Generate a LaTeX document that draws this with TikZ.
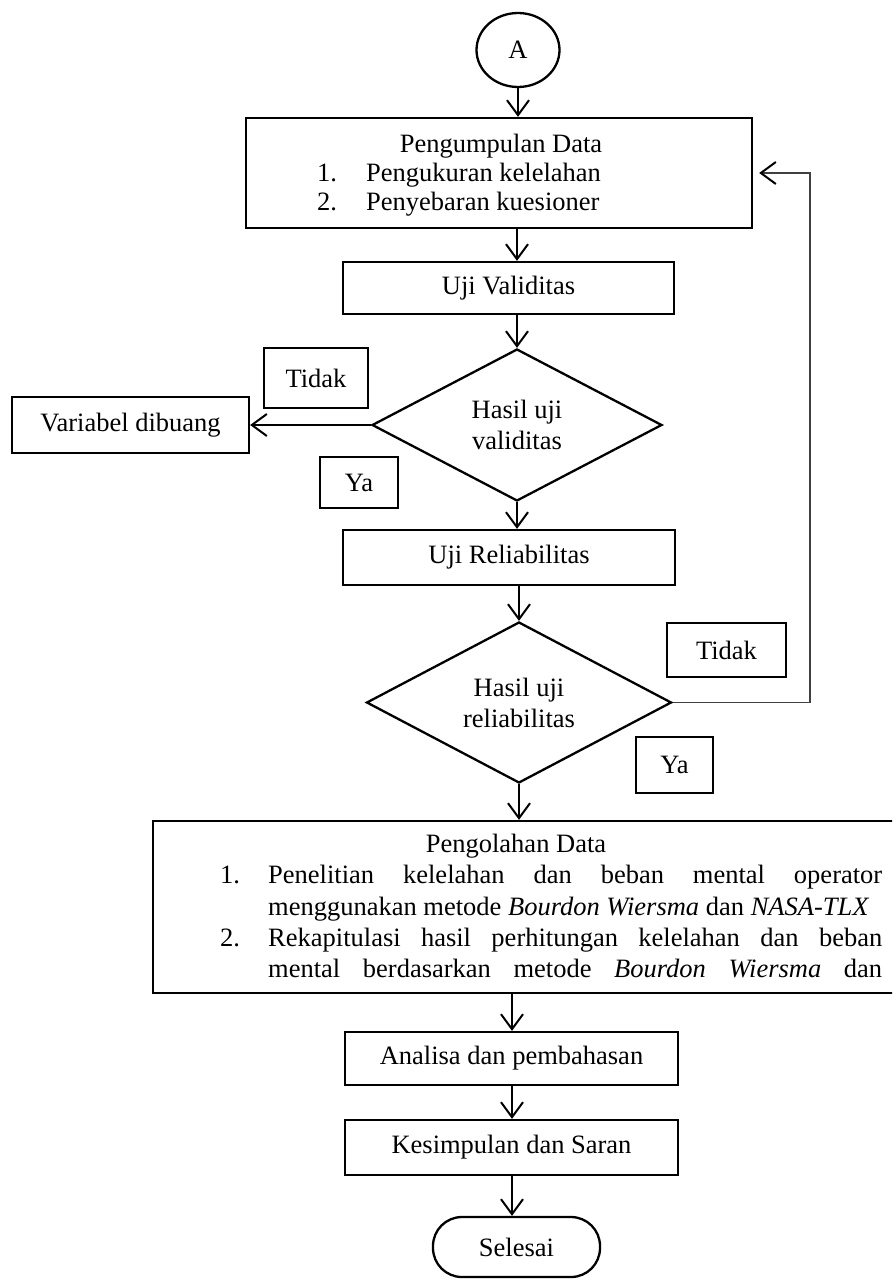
\documentclass[tikz,border=0pt]{standalone}
\usepackage{fontspec}
\setmainfont{Liberation Serif}
\usetikzlibrary{shapes.geometric,arrows.meta,calc}
\begin{document}
\begin{tikzpicture}[x=1pt,y=-1pt,
  every node/.append style={font=\fontsize{26.5}{31}\selectfont},
  box/.style={draw, line width=2.3pt, inner sep=0pt, align=center},
  lblbox/.style={draw, line width=2.1pt, inner sep=0pt},
  dec/.style={draw, diamond, aspect=2, line width=2.3pt, inner sep=0pt, align=center},
  txt/.style={inner sep=0pt},
  arr/.style={line width=2pt, -{Straight Barb[length=15pt,width=22pt]}},
  fb/.style={line width=1.3pt, draw=black!75, -{Straight Barb[length=15pt,width=22pt,line width=2pt,color=black]}}
]
\useasboundingbox (0,0) rectangle (892,1279);
\clip (0,0) rectangle (892,1279);

% nodes
\node[ellipse, draw, line width=2.3pt, minimum width=83pt, minimum height=74pt, inner sep=0pt] (A) at (518,50) {A};
\node[box, minimum width=506pt, minimum height=110pt] (b1) at (499,173) {};
\node[txt, anchor=base] (b1t) at (501,152) {Pengumpulan Data};
\node[txt, anchor=base west] (b1n1) at (317,181) {1.};
\node[txt, anchor=base west] (b1i1) at (366,181) {Pengukuran kelelahan};
\node[txt, anchor=base west] (b1n2) at (317,210) {2.};
\node[txt, anchor=base west] (b1i2) at (366,210) {Penyebaran kuesioner};

\node[box, minimum width=331pt, minimum height=52pt] (uv) at (508.5,288) {Uji Validitas};
\node[dec, minimum width=290pt, minimum height=152pt] (d1) at (517,425) {Hasil uji\\validitas};
\node[lblbox, minimum width=104pt, minimum height=60pt] (t1) at (316,378) {Tidak};
\node[box, minimum width=237pt, minimum height=56pt] (var) at (130.5,425) {Variabel dibuang};
\node[lblbox, minimum width=78pt, minimum height=51pt] (y1) at (359,482.5) {Ya};

\node[box, minimum width=332pt, minimum height=55pt] (ur) at (509,557.5) {Uji Reliabilitas};
\node[dec, minimum width=305pt, minimum height=161pt] (d2) at (519,702.5) {Hasil uji\\reliabilitas};
\node[lblbox, minimum width=119pt, minimum height=54pt] (t2) at (726.5,650) {Tidak};
\node[lblbox, minimum width=77pt, minimum height=56pt] (y2) at (674.5,765) {Ya};

\node[box, minimum width=752pt, minimum height=172pt] (big) at (529,907) {};
\node[txt, anchor=base] (bigt) at (516,852) {Pengolahan Data};
\node[txt, anchor=base west] (bn1) at (220,883) {1.};
\node[txt, anchor=base west] (bl1) at (268,883) {\makebox[614pt][s]{Penelitian kelelahan dan beban mental operator}};
\node[txt, anchor=base west] (bl2) at (268,915) {menggunakan metode \textit{Bourdon Wiersma} dan \textit{NASA-TLX}};
\node[txt, anchor=base west] (bn2) at (220,946) {2.};
\node[txt, anchor=base west] (bl3) at (268,946) {\makebox[614pt][s]{Rekapitulasi hasil perhitungan kelelahan dan beban}};
\node[txt, anchor=base west] (bl4) at (268,977) {\makebox[614pt][s]{mental berdasarkan metode \textit{Bourdon Wiersma} dan}};

\node[box, minimum width=333pt, minimum height=53pt] (an) at (511.5,1058.5) {Analisa dan pembahasan};
\node[box, minimum width=333pt, minimum height=55pt] (ks) at (511.5,1147.5) {Kesimpulan dan Saran};
\node[draw, line width=2.3pt, rounded corners=29pt, minimum width=167pt, minimum height=60pt, inner sep=0pt] (sel) at (516.5,1247) {Selesai};

% axes
\coordinate (ax1) at (517,0);
\coordinate (ax2) at (512,0);
\coordinate (fbc) at (810,0);

% connectors
\draw[arr] (A.south) -- (A.south |- b1.north);
\draw[arr] (b1.south -| ax1) -- (uv.north -| ax1);
\draw[arr] (uv.south -| d1.north) -- (d1.north);
\draw[arr] (d1.west) -- (d1.west -| var.east);
\draw[arr] (d1.south) -- (d1.south |- ur.north);
\draw[arr] (ur.south -| d2.north) -- (d2.north);
\draw[fb, shorten >=6pt] (d2.east) -- (d2.east -| fbc) |- (b1.east);
\draw[arr] (d2.south) -- (d2.south |- big.north);
\draw[arr] (big.south -| ax2) -- (an.north -| ax2);
\draw[arr] (an.south -| ax2) -- (ks.north -| ax2);
\draw[arr] (ks.south -| ax2) -- (sel.north -| ax2);
\end{tikzpicture}
\end{document}
